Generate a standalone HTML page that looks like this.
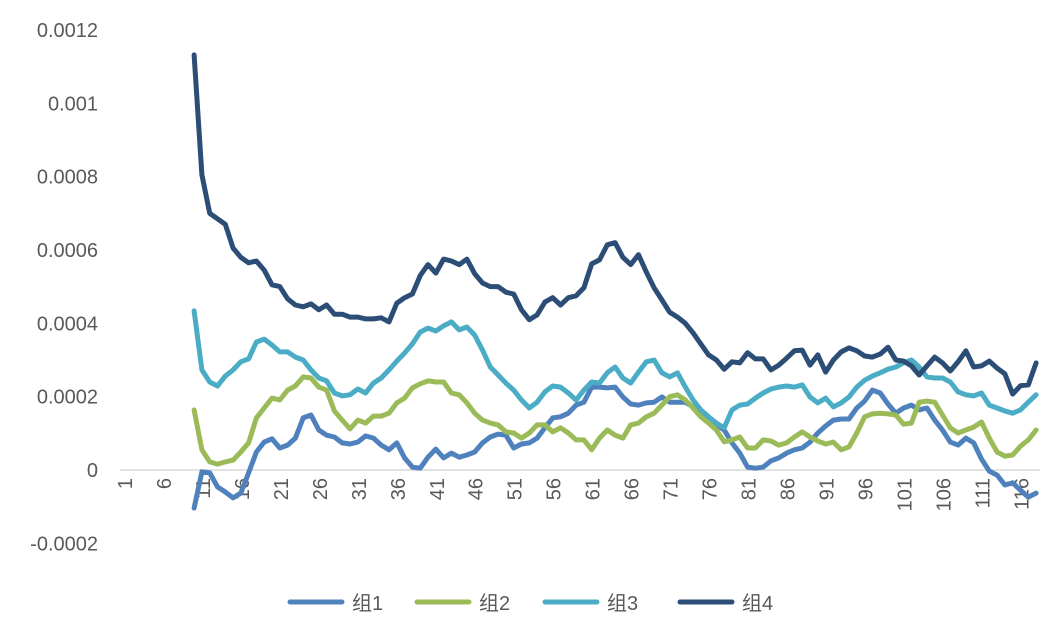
<!DOCTYPE html>
<html><head><meta charset="utf-8"><style>
body{margin:0;background:#fff;}
svg{display:block;font-family:"Liberation Sans","Noto Sans CJK SC",sans-serif;}
</style></head><body>
<svg id="chart" width="1062" height="627" viewBox="0 0 1062 627" xmlns="http://www.w3.org/2000/svg">
<g id="yaxis"></g>
<g id="xaxis"></g>
<g id="series"></g>
<g id="legend"></g>
</svg>
<script>
const SCALE = 1e-4;
const startCategory = 10;
const categoryCount = 118;
const yTicks = [-0.0002, 0, 0.0002, 0.0004, 0.0006, 0.0008, 0.001, 0.0012];
const yTickLabels = ["-0.0002","0","0.0002","0.0004","0.0006","0.0008","0.001","0.0012"];
const seriesNames = ["组1","组2","组3","组4"];
const group1 = [-1.04,-0.05,-0.08,-0.46,-0.6,-0.76,-0.63,-0.08,0.49,0.76,0.85,0.6,0.68,0.87,1.42,1.5,1.09,0.95,0.9,0.74,0.71,0.76,0.93,0.87,0.68,0.55,0.74,0.33,0.08,0.05,0.35,0.57,0.33,0.46,0.35,0.41,0.49,0.74,0.9,0.98,0.95,0.6,0.71,0.74,0.87,1.15,1.42,1.45,1.55,1.77,1.85,2.26,2.26,2.24,2.26,1.99,1.8,1.77,1.83,1.85,1.99,1.85,1.85,1.85,1.72,1.55,1.36,1.23,1.09,0.74,0.46,0.08,0.05,0.08,0.25,0.33,0.46,0.55,0.6,0.76,1.01,1.2,1.36,1.39,1.39,1.69,1.88,2.18,2.1,1.8,1.55,1.69,1.77,1.64,1.69,1.36,1.09,0.76,0.68,0.87,0.74,0.3,-0.03,-0.14,-0.41,-0.35,-0.55,-0.74,-0.63];
const group2 = [1.64,0.55,0.22,0.16,0.22,0.27,0.49,0.74,1.42,1.69,1.96,1.91,2.18,2.29,2.54,2.51,2.26,2.18,1.61,1.36,1.12,1.36,1.28,1.47,1.47,1.55,1.83,1.96,2.24,2.35,2.43,2.4,2.4,2.1,2.05,1.83,1.55,1.36,1.28,1.23,1.04,1.01,0.87,1.01,1.23,1.23,1.04,1.15,1.01,0.82,0.82,0.55,0.87,1.09,0.95,0.87,1.23,1.28,1.45,1.55,1.77,2.0,2.05,1.91,1.69,1.45,1.28,1.09,0.77,0.82,0.9,0.6,0.6,0.82,0.79,0.68,0.74,0.9,1.04,0.9,0.79,0.71,0.76,0.55,0.63,1.01,1.45,1.53,1.55,1.53,1.5,1.25,1.28,1.85,1.88,1.85,1.5,1.15,1.01,1.09,1.17,1.31,0.87,0.49,0.38,0.41,0.65,0.82,1.09];
const group3 = [4.34,2.73,2.4,2.29,2.56,2.73,2.95,3.03,3.49,3.57,3.41,3.22,3.22,3.08,3.0,2.73,2.51,2.43,2.1,2.02,2.05,2.21,2.1,2.37,2.51,2.73,2.97,3.19,3.44,3.76,3.87,3.79,3.93,4.04,3.82,3.9,3.68,3.27,2.81,2.59,2.37,2.18,1.91,1.69,1.85,2.13,2.29,2.26,2.1,1.91,2.18,2.4,2.37,2.65,2.81,2.51,2.37,2.67,2.95,3.0,2.65,2.54,2.65,2.26,1.91,1.64,1.45,1.28,1.15,1.64,1.77,1.8,1.96,2.1,2.21,2.26,2.29,2.26,2.32,1.99,1.83,1.96,1.72,1.83,1.99,2.26,2.45,2.56,2.65,2.75,2.81,2.92,3.0,2.81,2.54,2.51,2.51,2.4,2.13,2.05,2.02,2.1,1.77,1.69,1.61,1.55,1.64,1.85,2.05];
const group4 = [11.32,8.05,7.0,6.85,6.7,6.05,5.8,5.65,5.7,5.45,5.05,5.0,4.67,4.5,4.45,4.53,4.37,4.5,4.25,4.25,4.17,4.17,4.12,4.12,4.15,4.04,4.55,4.7,4.8,5.3,5.6,5.37,5.75,5.7,5.6,5.75,5.35,5.1,5.0,5.0,4.85,4.8,4.37,4.1,4.23,4.58,4.7,4.5,4.7,4.75,4.97,5.62,5.73,6.14,6.2,5.8,5.6,5.87,5.4,4.97,4.64,4.3,4.17,4.0,3.74,3.44,3.14,3.0,2.75,2.95,2.92,3.2,3.03,3.03,2.73,2.86,3.05,3.25,3.27,2.86,3.14,2.67,3.0,3.22,3.33,3.25,3.11,3.08,3.16,3.35,3.0,2.97,2.84,2.59,2.84,3.08,2.92,2.7,2.95,3.25,2.81,2.84,2.97,2.78,2.62,2.07,2.3,2.32,2.92];

const NS = "http://www.w3.org/2000/svg";
const X0 = 120, X1 = 1040, Y0 = 470, PX_PER_UNIT = 366.7 / 0.001;
const step = (X1 - X0) / categoryCount;
function xPos(c){ return X0 + (c - 0.5) * step; }
function yPos(v){ return Y0 - v * PX_PER_UNIT; }
function mk(tag, attrs, parent){ const e = document.createElementNS(NS, tag); for (const k in attrs) e.setAttribute(k, attrs[k]); parent.appendChild(e); return e; }

const yg = document.getElementById('yaxis');
yTicks.forEach((t, i) => {
  const tx = mk('text', {x: 98, y: yPos(t) + 7, 'text-anchor': 'end', 'font-size': 20, fill: '#595959'}, yg);
  
  
  tx.textContent = yTickLabels[i];
});
const zl = mk('line', {x1: X0, x2: X1, y1: yPos(0), y2: yPos(0), stroke: '#d9d9d9', 'stroke-width': 1.5}, yg);



const xg = document.getElementById('xaxis');
for (let c = 1; c <= categoryCount; c += 5) {
  const x = xPos(c) + 8;
  const tx = mk('text', {x: 0, y: 0, 'text-anchor': 'end', 'font-size': 20, fill: '#595959', transform: `translate(${x},478) rotate(-90)`}, xg);
  
  
  tx.textContent = String(c);
}

const colors = ['#4f81bd', '#9bbb59', '#4bacc6', '#2c4d75'];
const allSeries = [group1, group2, group3, group4];
const sg = document.getElementById('series');
allSeries.forEach((arr, si) => {
  const pts = arr.map((v, i) => xPos(startCategory + i).toFixed(1) + ',' + yPos(v * SCALE).toFixed(1)).join(' ');
  const pl = mk('polyline', {points: pts, fill: 'none', stroke: colors[si], 'stroke-width': 5, 'stroke-linejoin': 'round', 'stroke-linecap': 'round'}, sg);
  
  
});

const lg = document.getElementById('legend');
const legendX = [290, 417, 545, 680];
seriesNames.forEach((n, i) => {
  const g = mk('g', {}, lg);
  
  
  mk('line', {x1: legendX[i], x2: legendX[i] + 52, y1: 602, y2: 602, stroke: colors[i], 'stroke-width': 5, 'stroke-linecap': 'round'}, g);
  const t = mk('text', {x: legendX[i] + 62, y: 610, 'font-size': 20, fill: '#595959'}, g);
  t.textContent = n;
});
</script>
</body></html>
